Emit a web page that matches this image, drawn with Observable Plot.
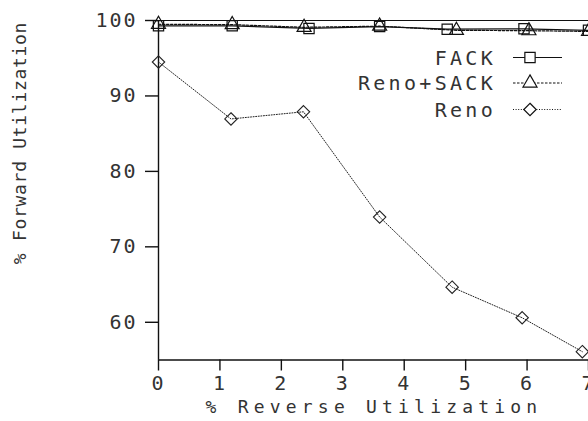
<!DOCTYPE html>
<html>
<head>
<meta charset="utf-8">
<script src="https://cdn.jsdelivr.net/npm/d3@7"></script>
<script src="https://cdn.jsdelivr.net/npm/@observablehq/plot@0.6"></script>
<style>
  html, body { margin: 0; padding: 0; background: #fff; }
  #chart { width: 588px; height: 421px; overflow: hidden; }
  svg text { font-family: "DejaVu Sans Mono", monospace; }
</style>
</head>
<body>
<div id="chart"></div>
<script>
// ---- data ----
const seriesNames = ["FACK", "Reno+SACK", "Reno"];
const fackX = [0, 1.2, 2.45, 3.6, 4.7, 5.95, 7.0];
const fackY = [99.3, 99.3, 98.95, 99.2, 98.85, 98.9, 98.7];
const sackX = [0, 1.2, 2.37, 3.6, 4.85, 6.03, 7.0];
const sackY = [99.5, 99.45, 99.1, 99.25, 98.7, 98.65, 98.55];
const renoX = [0, 1.18, 2.36, 3.6, 4.78, 5.92, 6.9];
const renoY = [94.5, 86.95, 87.9, 73.95, 64.65, 60.6, 56.1];
const xTicks = [0, 1, 2, 3, 4, 5, 6, 7];
const yTicks = [60, 70, 80, 90, 100];
const xLabel = "% Reverse Utilization";
const yLabel = "% Forward Utilization";

const toRows = (xs, ys) => xs.map((x, i) => ({x, y: ys[i]}));
const fack = toRows(fackX, fackY);
const sack = toRows(sackX, sackY);
const reno = toRows(renoX, renoY);

const styles = {
  "FACK": {symbol: "square", r: 5.8, dash: null},
  "Reno+SACK": {symbol: "triangle", r: 5.2, dash: "2.5,1.5"},
  "Reno": {symbol: "diamond2", r: 5.6, dash: "1,1.6"}
};
const ink = "#333";

const W = 588, H = 421;
const plot = Plot.plot({
  width: W,
  height: H,
  marginLeft: 158,
  marginRight: 0,
  marginTop: 20,
  marginBottom: 61.5,
  style: {fontFamily: "DejaVu Sans Mono, monospace", fontSize: "20px", color: "#111", overflow: "hidden"},
  x: {domain: [0, 7]},
  y: {domain: [55, 100]},
  marks: [
    Plot.ruleY([100], {stroke: "#111", strokeWidth: 1.2}),
    Plot.ruleY([55], {stroke: "#111", strokeWidth: 1.4}),
    Plot.ruleX([0], {stroke: "#111", strokeWidth: 1.4}),
    Plot.axisY({ticks: yTicks, tickFormat: d => String(d), tickSize: 13, tickPadding: 8, label: null, stroke: "#111", strokeWidth: 1.4}),
    Plot.axisX({ticks: xTicks, tickFormat: d => String(d), tickSize: 11, tickPadding: 5, label: null, stroke: "#111", strokeWidth: 1.4}),
    Plot.line(reno, {x: "x", y: "y", stroke: "#222", strokeWidth: 1, strokeDasharray: styles["Reno"].dash}),
    Plot.line(sack, {x: "x", y: "y", stroke: "#111", strokeWidth: 1.2, strokeDasharray: styles["Reno+SACK"].dash}),
    Plot.line(fack, {x: "x", y: "y", stroke: "#111", strokeWidth: 1.2}),
    Plot.dot(fack, {x: "x", y: "y", symbol: () => "square", r: styles["FACK"].r, stroke: "#111", strokeWidth: 1.2, fill: "none"}),
    Plot.dot(sack, {x: "x", y: "y", symbol: () => "triangle", r: styles["Reno+SACK"].r, stroke: "#111", strokeWidth: 1.2, fill: "none"}),
    Plot.dot(reno, {x: "x", y: "y", symbol: () => "diamond2", r: styles["Reno"].r, stroke: "#222", strokeWidth: 1.1, fill: "none"})
  ]
});
document.getElementById("chart").appendChild(plot);

// letter spacing for tick labels
const svg = d3.select(plot);
svg.selectAll("g[aria-label='y-axis tick label'] text, g[aria-label='x-axis tick label'] text")
  .style("letter-spacing", "2px").attr("fill", ink);

// axis titles
svg.append("text")
  .attr("transform", "translate(19,143) rotate(-90)")
  .attr("text-anchor", "middle").attr("dominant-baseline", "central")
  .style("font-size", "18px").style("letter-spacing", "0.7px").attr("fill", ink)
  .text(yLabel);
svg.append("text")
  .attr("x", 374).attr("y", 406)
  .attr("text-anchor", "middle").attr("dominant-baseline", "central")
  .style("font-size", "18px").style("letter-spacing", "5.2px").attr("fill", ink)
  .text(xLabel);

// legend (inside plot, top-right)
const legendY = [57.5, 83, 109.5];
seriesNames.forEach((name, i) => {
  const st = styles[name];
  const g = svg.append("g").attr("transform", `translate(0,${legendY[i]})`);
  g.append("text")
    .attr("x", 496).attr("y", 0)
    .attr("text-anchor", "end").attr("dominant-baseline", "central")
    .style("font-size", "20px").style("letter-spacing", "3.3px").attr("fill", ink)
    .text(name);
  g.append("line").attr("x1", 513).attr("x2", 562).attr("y1", 0).attr("y2", 0)
    .attr("stroke", "#111").attr("stroke-width", name === "FACK" ? 1.2 : 1.1)
    .attr("stroke-dasharray", st.dash);
  const sym = {square: d3.symbolSquare, triangle: d3.symbolTriangle, diamond2: d3.symbolDiamond2}[st.symbol];
  g.append("path").attr("transform", "translate(530,0)")
    .attr("d", d3.symbol(sym, Math.PI * st.r * st.r)())
    .attr("fill", "#fff").attr("stroke", "#111").attr("stroke-width", 1.2);
});
</script>
</body>
</html>
